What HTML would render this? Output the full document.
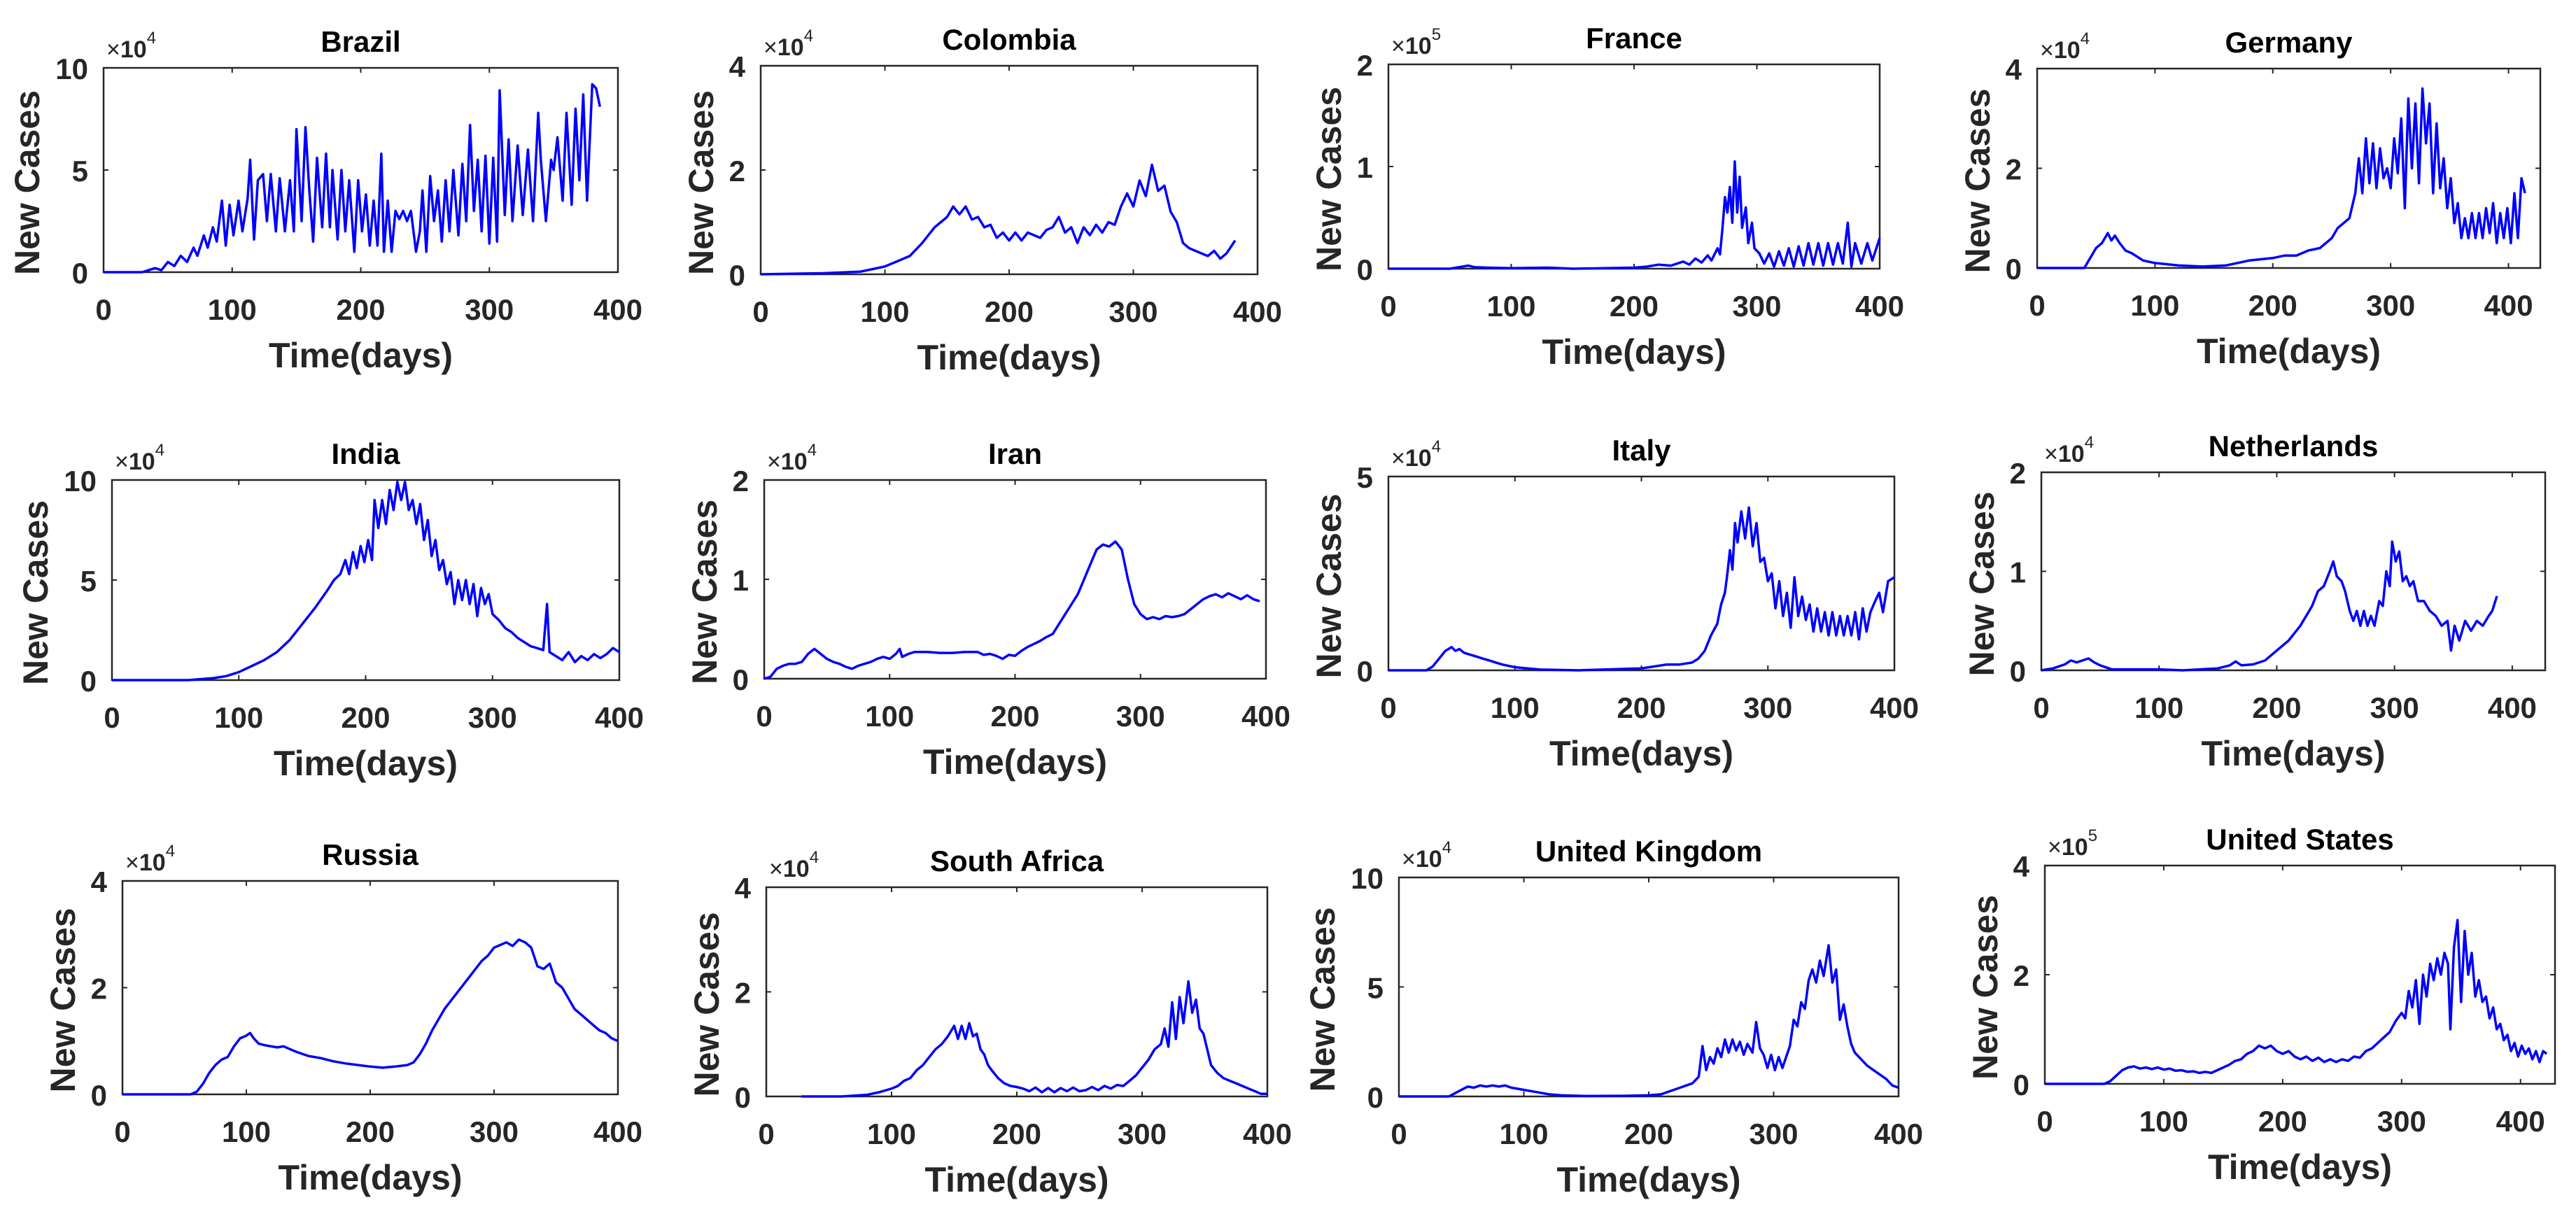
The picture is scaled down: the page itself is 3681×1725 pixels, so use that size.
<!DOCTYPE html>
<html><head><meta charset="utf-8">
<style>
html,body{margin:0;padding:0;background:#fff;}
svg{display:block;font-family:"Liberation Sans",Arial,sans-serif;}
</style></head>
<body>
<svg id="fig" width="3681" height="1725" viewBox="0 0 3681 1725" xmlns="http://www.w3.org/2000/svg"></svg>
<script>
// ---------- data (days / new cases in units of 10^exp) ----------
const brazilDays=[0,30,40,45,50,55,60,65,70,73,78,81,85,88,92,95,98,101,105,108,112,114,117,120,124,127,130,134,137,141,145,148,150,154,157,160,163,166,170,173,176,178,182,185,188,191,195,198,201,204,207,210,213,216,218,221,224,227,230,233,236,239,243,246,248,251,254,257,260,263,266,269,272,276,279,282,285,288,291,294,297,300,303,306,308,312,315,318,322,326,330,334,338,340,344,348,350,353,357,360,364,367,370,373,376,380,383,386];
const brazilCases=[0,0,0.2,0.1,0.5,0.3,0.8,0.5,1.2,0.8,1.8,1.2,2.2,1.5,3.5,1.3,3.3,1.8,3.5,2,3.6,5.5,1.6,4.5,4.8,2.5,4.8,2,4.6,2,4.5,2,7,2.5,7.1,4,1.5,5.6,2.2,5.8,2.2,5,1.6,5,2,4.5,1,4.5,2,3.8,1.3,3.5,1.3,5.8,1,3.5,1,3,2.6,3,2.5,3,1,2,4,1,4.7,2.5,4,1.5,4.5,2,5,1.8,5.3,2.5,7.2,3,5.5,2,5.7,1.4,5.6,1.5,8.9,2.8,6.5,2.5,6.2,2.8,6,2.5,7.8,5.5,2.5,5.5,5,6.6,3.5,7.8,3.3,8,4.5,8.7,3.5,9.2,9,8.1];
const colombiaDays=[0,50,70,80,90,100,110,120,130,135,140,145,150,155,160,165,170,175,180,185,190,195,200,205,210,215,220,225,230,235,240,245,250,255,260,265,270,275,280,285,290,295,300,305,310,315,320,325,330,335,340,345,350,355,360,365,370,375,382];
const colombiaCases=[0,0.02,0.04,0.05,0.1,0.15,0.25,0.35,0.6,0.75,0.9,1.0,1.1,1.3,1.15,1.3,1.05,1.1,0.9,0.95,0.7,0.8,0.65,0.8,0.65,0.8,0.75,0.7,0.85,0.9,1.1,0.8,0.9,0.6,0.9,0.75,0.95,0.8,1.0,0.95,1.3,1.55,1.3,1.8,1.5,2.1,1.6,1.7,1.2,1.0,0.6,0.5,0.45,0.4,0.35,0.45,0.3,0.4,0.65];
const franceDays=[0,50,60,65,70,80,100,130,150,200,210,220,230,240,245,250,255,260,263,268,270,272,274,276,278,280,282,284,286,288,291,293,296,298,302,306,310,314,318,322,326,330,334,338,342,346,350,354,358,362,366,370,374,377,380,385,390,394,400];
const franceCases=[0,0,0.02,0.03,0.015,0.01,0.005,0.01,0,0.01,0.02,0.04,0.03,0.07,0.04,0.1,0.06,0.13,0.08,0.2,0.14,0.4,0.7,0.55,0.8,0.45,1.05,0.55,0.9,0.4,0.6,0.25,0.45,0.2,0.15,0.05,0.15,0.02,0.17,0.03,0.2,0.02,0.22,0.03,0.25,0.04,0.25,0.03,0.25,0.04,0.25,0.05,0.45,0.02,0.25,0.05,0.25,0.08,0.3];
const germanyDays=[0,40,45,50,55,60,63,66,70,75,80,90,100,120,140,160,180,200,210,220,230,240,250,255,260,265,270,273,276,279,282,285,288,291,294,297,300,303,306,309,312,315,318,321,324,327,330,333,336,339,342,345,348,351,354,357,360,363,366,369,372,375,378,381,384,387,390,393,396,399,402,405,408,411,414];
const germanyCases=[0,0,0.2,0.4,0.5,0.7,0.55,0.65,0.5,0.35,0.3,0.15,0.1,0.05,0.03,0.05,0.15,0.2,0.25,0.25,0.35,0.4,0.6,0.8,0.9,1.0,1.5,2.2,1.5,2.6,1.7,2.5,1.6,2.4,1.8,2.0,1.6,2.6,1.9,3.0,1.2,3.4,2.0,3.3,1.7,3.6,2.5,3.3,1.5,2.9,1.6,2.2,1.2,1.8,0.9,1.3,0.6,1.0,0.6,1.1,0.6,1.1,0.6,1.2,0.7,1.3,0.5,1.1,0.6,1.2,0.5,1.5,0.6,1.8,1.5];
const indiaDays=[0,60,80,90,100,110,120,130,140,150,160,170,175,180,184,187,190,193,196,199,202,205,207,210,213,216,219,222,225,228,231,234,237,240,243,246,249,252,255,258,261,264,267,270,273,276,279,282,285,288,291,294,297,300,305,310,315,320,325,330,335,340,343,345,350,355,360,365,370,375,380,385,390,395,400];
const indiaCases=[0,0,0.1,0.2,0.4,0.7,1.0,1.4,2.0,2.8,3.6,4.5,5.0,5.3,6.0,5.3,6.4,5.6,6.7,5.9,7.0,6.0,9.0,7.6,9.0,7.8,9.5,8.5,9.9,9.0,9.9,8.5,9.0,7.8,8.8,7.0,8.0,6.2,7.0,5.5,6.0,4.8,5.4,3.8,5.0,4.0,5.0,3.8,4.8,3.2,4.6,3.8,4.3,3.3,3.0,2.6,2.4,2.1,1.9,1.7,1.6,1.5,3.8,1.4,1.2,1.0,1.4,0.9,1.2,1.0,1.3,1.1,1.3,1.6,1.4];
const iranDays=[0,5,10,15,20,25,30,35,40,45,50,55,60,65,70,75,80,85,90,95,100,105,108,110,115,120,130,140,150,160,170,175,180,185,190,195,200,205,210,215,220,225,230,235,240,245,250,255,260,265,270,275,280,285,290,295,300,305,310,315,320,325,330,335,340,345,350,355,360,365,370,375,380,385,390,395];
const iranCases=[0,0.02,0.1,0.13,0.15,0.15,0.17,0.25,0.3,0.25,0.2,0.17,0.15,0.12,0.1,0.13,0.15,0.17,0.2,0.22,0.2,0.25,0.3,0.22,0.25,0.27,0.27,0.26,0.26,0.27,0.27,0.24,0.25,0.23,0.2,0.24,0.23,0.28,0.32,0.35,0.38,0.42,0.45,0.55,0.65,0.75,0.85,1.0,1.15,1.3,1.35,1.33,1.38,1.3,1.0,0.75,0.65,0.6,0.62,0.6,0.63,0.62,0.63,0.65,0.7,0.75,0.8,0.83,0.85,0.82,0.86,0.83,0.8,0.84,0.8,0.78];
const italyDays=[0,30,35,40,45,50,53,56,60,65,70,75,80,85,90,100,110,120,150,200,210,220,230,240,245,250,255,260,263,266,268,270,272,274,276,279,282,285,288,291,294,297,300,303,306,309,312,315,318,321,324,327,330,333,336,339,342,345,348,351,354,357,360,363,366,369,372,375,378,381,385,388,391,395,400];
const italyCases=[0,0,0.1,0.3,0.5,0.6,0.5,0.55,0.45,0.4,0.35,0.3,0.25,0.2,0.15,0.08,0.05,0.02,0,0.05,0.1,0.15,0.15,0.2,0.3,0.5,0.9,1.2,1.7,2.0,2.5,3.1,2.6,3.8,3.3,4.1,3.4,4.2,3.2,3.8,2.8,2.9,2.3,2.5,1.6,2.3,1.4,2.0,1.1,2.4,1.4,1.9,1.3,1.7,1.0,1.6,1.0,1.5,0.9,1.5,0.9,1.4,0.9,1.4,0.9,1.5,0.8,1.6,1.0,1.5,1.8,2.0,1.5,2.3,2.4];
const netherlandsDays=[0,10,20,25,30,35,40,45,50,55,60,80,100,120,150,160,165,170,180,190,200,210,220,230,235,240,245,248,251,255,258,262,265,268,271,274,277,280,283,287,290,293,296,298,301,304,307,310,313,316,320,325,330,335,340,345,348,351,355,360,365,370,375,380,383,387];
const netherlandsCases=[0,0.02,0.06,0.1,0.08,0.1,0.12,0.08,0.05,0.03,0.01,0.01,0.01,0,0.02,0.05,0.09,0.05,0.06,0.1,0.2,0.3,0.45,0.65,0.8,0.85,1.0,1.1,0.95,0.9,0.8,0.6,0.5,0.6,0.45,0.6,0.45,0.55,0.45,0.7,0.65,1.0,0.85,1.3,1.1,1.2,0.9,0.95,0.85,0.9,0.7,0.7,0.6,0.55,0.45,0.5,0.2,0.45,0.3,0.5,0.4,0.5,0.45,0.55,0.6,0.75];
const russiaDays=[0,55,60,65,70,75,80,85,90,95,100,103,106,110,115,120,125,130,135,140,150,160,170,180,190,200,210,220,230,235,240,245,250,255,260,265,270,275,280,285,290,295,300,305,310,315,320,325,330,335,340,345,350,355,360,365,370,375,380,385,390,395,400];
const russiaCases=[0,0,0.05,0.2,0.4,0.55,0.65,0.7,0.9,1.05,1.1,1.15,1.05,0.95,0.92,0.9,0.88,0.9,0.85,0.8,0.72,0.68,0.62,0.58,0.55,0.52,0.5,0.52,0.55,0.6,0.75,0.95,1.2,1.4,1.6,1.75,1.9,2.05,2.2,2.35,2.5,2.6,2.75,2.8,2.85,2.78,2.9,2.85,2.75,2.4,2.35,2.45,2.1,2.0,1.8,1.6,1.5,1.4,1.3,1.2,1.15,1.05,1.0];
const southAfricaDays=[28,60,80,90,100,105,110,115,120,125,130,135,140,145,150,153,156,159,162,165,168,171,174,177,180,185,190,195,200,205,210,215,220,225,230,235,240,245,250,255,260,265,270,275,280,285,290,295,300,305,310,315,318,321,324,327,330,333,337,340,343,346,349,352,355,360,365,370,375,380,385,390,395,400];
const southAfricaCases=[0,0,0.03,0.08,0.15,0.2,0.3,0.35,0.5,0.6,0.75,0.9,1.0,1.15,1.35,1.1,1.35,1.1,1.4,1.15,1.2,0.9,0.8,0.6,0.5,0.35,0.25,0.2,0.18,0.15,0.1,0.17,0.08,0.16,0.08,0.16,0.1,0.17,0.1,0.12,0.18,0.12,0.2,0.15,0.22,0.2,0.3,0.4,0.55,0.7,0.9,1.0,1.3,0.95,1.8,1.1,1.9,1.4,2.2,1.6,1.85,1.3,1.2,0.9,0.6,0.45,0.35,0.3,0.25,0.2,0.15,0.1,0.05,0.05];
const ukDays=[0,40,45,50,55,60,65,70,75,80,85,90,95,100,110,120,130,150,180,200,210,215,220,225,230,235,240,243,246,249,252,255,258,261,264,267,270,273,276,279,283,286,289,292,295,298,301,304,307,310,313,316,319,322,325,328,331,334,337,340,344,347,350,353,356,359,362,365,370,375,380,385,390,395,400];
const ukCases=[0,0,0.15,0.3,0.45,0.4,0.5,0.45,0.5,0.45,0.5,0.4,0.35,0.3,0.2,0.1,0.05,0.02,0.03,0.05,0.1,0.2,0.3,0.4,0.5,0.6,0.9,2.3,1.2,1.8,1.5,2.2,1.8,2.6,2.0,2.6,2.1,2.5,1.9,2.4,2.0,3.4,2.2,1.9,1.3,1.9,1.2,1.8,1.3,1.8,2.3,3.5,3.2,4.3,4.0,5.3,5.8,5.2,6.2,5.5,6.9,5.2,5.8,3.5,4.2,3.2,2.4,2.0,1.7,1.4,1.2,1.0,0.8,0.5,0.4];
const usDays=[0,50,55,60,65,70,75,80,85,90,95,100,105,110,115,120,125,130,135,140,145,150,155,160,165,170,175,180,185,190,195,200,205,210,215,220,225,230,235,240,245,250,255,260,265,270,275,280,285,290,295,300,303,306,309,312,315,318,321,324,327,330,333,336,339,341,344,347,350,353,356,359,362,365,368,371,374,377,380,383,386,389,392,395,398,401,404,407,410,413,416,419,422];
const usCases=[0,0,0.05,0.15,0.25,0.3,0.32,0.28,0.3,0.27,0.3,0.26,0.28,0.24,0.25,0.22,0.23,0.2,0.22,0.2,0.25,0.3,0.35,0.42,0.45,0.55,0.6,0.7,0.65,0.7,0.6,0.55,0.6,0.5,0.45,0.5,0.42,0.48,0.4,0.45,0.4,0.45,0.42,0.5,0.48,0.6,0.65,0.75,0.85,0.95,1.15,1.3,1.2,1.7,1.4,1.9,1.1,2.0,1.6,2.2,1.9,2.3,2.0,2.4,2.2,1.0,2.5,3.0,1.5,2.8,2.0,2.4,1.6,1.9,1.5,1.6,1.2,1.4,1.0,1.1,0.8,0.9,0.6,0.75,0.5,0.7,0.55,0.65,0.45,0.6,0.4,0.6,0.55];

const panelTitles=["Brazil","Colombia","France","Germany","India","Iran","Italy","Netherlands","Russia","South Africa","United Kingdom","United States"];
const panelExp=[4,4,5,4,4,4,4,4,4,4,4,5];
const panelYMax=[10,4,2,4,10,2,5,2,4,4,10,4];
const panelXMax=[400,400,400,427,400,400,400,428,400,400,400,429];
const yTickVals=[[0,5,10],[0,2,4],[0,1,2],[0,2,4],[0,5,10],[0,1,2],[0,5],[0,1,2],[0,2,4],[0,2,4],[0,5,10],[0,2,4]];
const xTickVals=[0,100,200,300,400];
const allDays=[brazilDays,colombiaDays,franceDays,germanyDays,indiaDays,iranDays,italyDays,netherlandsDays,russiaDays,southAfricaDays,ukDays,usDays];
const allCases=[brazilCases,colombiaCases,franceCases,germanyCases,indiaCases,iranCases,italyCases,netherlandsCases,russiaCases,southAfricaCases,ukCases,usCases];

// ---------- layout (axes boxes in px: left, right, top, bottom) ----------
const boxes=[[148,883,97,389],[1087,1797,94,392],[1984,2686,92,384],[2911,3630,98,383],
 [160,885,686,972],[1092,1809,686,970],[1984,2707,681,958],[2917,3637,675,958],
 [175,883,1259,1564],[1095,1811,1268,1567],[1999,2713,1254,1567],[2922,3651,1237,1549]];

const NS="http://www.w3.org/2000/svg";
const svg=document.getElementById('fig');
function mk(tag,attrs,parent){const e=document.createElementNS(NS,tag);for(const k in attrs)e.setAttribute(k,attrs[k]);(parent||svg).appendChild(e);return e;}
function slug(s){return s.toLowerCase().replace(/\s+/g,'-');}

panelTitles.forEach((title,i)=>{
  const [L,R,T,B]=boxes[i];
  const xmax=panelXMax[i], ymax=panelYMax[i];
  const xs=v=>L+(R-L)*v/xmax;
  const ys=v=>B-(B-T)*v/ymax;
  const g=mk('g',{});
  
  
  const box=mk('rect',{x:L,y:T,width:R-L,height:B-T,fill:'none',stroke:'#262626','stroke-width':2.5},g);
  
  
  xTickVals.forEach(v=>{
    if(v>xmax)return;
    const x=xs(v);
    const t1=mk('line',{x1:x,y1:B,x2:x,y2:B-7,stroke:'#262626','stroke-width':2},g);
    
    
    const t2=mk('line',{x1:x,y1:T,x2:x,y2:T+7,stroke:'#262626','stroke-width':2},g);
    
    
    const tl=mk('text',{x:x,y:B+68,'text-anchor':'middle','font-size':42,'font-weight':'bold',fill:'#262626'},g);
    tl.textContent=String(v);
    
    
  });
  const yt=yTickVals[i];
  let maxLen=1;
  yt.forEach(v=>{
    const y=ys(v);
    const t1=mk('line',{x1:L,y1:y,x2:L+7,y2:y,stroke:'#262626','stroke-width':2},g);
    
    
    const t2=mk('line',{x1:R,y1:y,x2:R-7,y2:y,stroke:'#262626','stroke-width':2},g);
    
    
    const tl=mk('text',{x:L-22,y:y+16,'text-anchor':'end','font-size':42,'font-weight':'bold',fill:'#262626'},g);
    tl.textContent=String(v);
    
    
    maxLen=Math.max(maxLen,String(v).length);
  });
  const ex=mk('text',{x:L+4,y:T-15,'font-size':34,fill:'#262626'},g);
  
  
  const ts1=mk('tspan',{},ex); ts1.textContent='\u00d7';
  const ts2=mk('tspan',{'font-weight':'bold'},ex); ts2.textContent='10';
  const ts3=mk('tspan',{dy:-20,'font-size':24},ex); ts3.textContent=String(panelExp[i]);
  const tt=mk('text',{x:(L+R)/2,y:T-23,'text-anchor':'middle','font-size':42,'font-weight':'bold',fill:'#000'},g);
  tt.textContent=title;
  
  
  const xl=mk('text',{x:(L+R)/2,y:B+136,'text-anchor':'middle','font-size':50,'font-weight':'bold',fill:'#262626'},g);
  xl.textContent='Time(days)';
  
  
  const ylx=L-22-maxLen*24-22, yly=(T+B)/2+18;
  const yl=mk('text',{x:ylx,y:yly,'text-anchor':'middle','font-size':50,'font-weight':'bold',fill:'#262626',transform:`rotate(-90 ${ylx} ${yly})`},g);
  yl.textContent='New Cases';
  
  
  const d=allDays[i], c=allCases[i];
  const pts=d.map((v,k)=>xs(v).toFixed(1)+','+ys(c[k]).toFixed(1)).join(' ');
  const pl=mk('polyline',{points:pts,fill:'none',stroke:'#0000ff','stroke-width':3.5,'stroke-linejoin':'round'},g);
  
  
});
</script>
</body></html>
